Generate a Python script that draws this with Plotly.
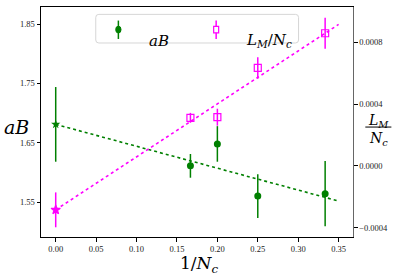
import plotly.graph_objects as go

# data
inv_nc = [0.0, 1/6, 0.2, 0.25, 1/3]
aB = [1.681, 1.611, 1.648, 1.560, 1.564]
aB_err = [0.063, 0.020, 0.030, 0.037, 0.055]
LM = [-0.000284, 0.000312, 0.000316, 0.000635, 0.000860]
LM_err = [0.000113, 0.000032, 0.000055, 0.000070, 0.000100]
fit_x = [0.0, 0.35]
fit_aB = [1.681, 1.5517]
fit_LM = [-0.000284, 0.000917]

aB_ticks = [1.55, 1.65, 1.75, 1.85]
LM_ticks = [-0.0004, 0.0, 0.0004, 0.0008]
x_ticks = [0.0, 0.05, 0.10, 0.15, 0.20, 0.25, 0.30, 0.35]

GREEN = "#008000"
MAG = "#ff00ff"
SERIF = "DejaVu Serif"
TSERIF = "Liberation Serif"

sym_aB = ["star"] + ["circle"] * (len(inv_nc) - 1)
sym_LM = ["star"] + ["square-open"] * (len(inv_nc) - 1)

fig = go.Figure()
fig.add_trace(go.Scatter(x=fit_x, y=fit_aB, mode="lines",
                         line=dict(color=GREEN, dash="dot", width=1.6),
                         yaxis="y", showlegend=False))
fig.add_trace(go.Scatter(x=fit_x, y=fit_LM, mode="lines",
                         line=dict(color=MAG, dash="dot", width=1.6),
                         yaxis="y2", showlegend=False))
fig.add_trace(go.Scatter(x=inv_nc, y=aB, mode="markers",
                         marker=dict(color=GREEN, size=7, symbol=sym_aB),
                         error_y=dict(type="data", array=aB_err, color=GREEN,
                                      thickness=1.5, width=0),
                         yaxis="y", showlegend=False))
fig.add_trace(go.Scatter(x=inv_nc, y=LM, mode="markers",
                         marker=dict(color=MAG, size=7, symbol=sym_LM,
                                     line=dict(color=MAG, width=1.2)),
                         error_y=dict(type="data", array=LM_err, color=MAG,
                                      thickness=1.5, width=0),
                         yaxis="y2", showlegend=False))

tickfont = dict(family=TSERIF, size=8.5, color="#222")

fig.update_layout(
    width=394, height=279,
    margin=dict(l=41, r=41.3, t=6.7, b=42.3, autoexpand=False),
    plot_bgcolor="white", paper_bgcolor="white",
    xaxis=dict(range=[-0.0182, 0.3678], tickvals=x_ticks, tickformat=".2f",
               ticks="outside", ticklen=3.5, tickcolor="black", automargin=False,
               showline=True, linecolor="black", linewidth=1, mirror=True,
               showgrid=False, zeroline=False, tickfont=tickfont),
    yaxis=dict(range=[1.491, 1.879], tickvals=aB_ticks, tickformat=".2f",
               ticks="outside", ticklen=3.5, tickcolor="black", automargin=False,
               showline=True, linecolor="black", linewidth=1,
               showgrid=False, zeroline=False, tickfont=tickfont),
    yaxis2=dict(range=[-0.00046, 0.00103], tickvals=LM_ticks, tickformat=".4f",
                overlaying="y", side="right", automargin=False,
                ticks="outside", ticklen=3.5, tickcolor="black",
                showline=True, linecolor="#666", linewidth=1,
                showgrid=False, zeroline=False, tickfont=tickfont),
    showlegend=False,
)

# axis titles
fig.add_annotation(text="<i>aB</i>", xref="paper", yref="paper",
                   x=-0.079, y=0.48, xanchor="center", yanchor="middle",
                   showarrow=False,
                   font=dict(family=SERIF, size=19, color="black"))
fig.add_annotation(text="1/<i>N<sub>c</sub></i>", xref="paper", yref="paper",
                   x=0.508, y=-0.118, xanchor="center", yanchor="middle",
                   showarrow=False,
                   font=dict(family=SERIF, size=17, color="black"))
fig.add_annotation(text="<i>L<sub>M</sub></i>", xref="paper", yref="paper",
                   x=1.081, y=0.505, xanchor="center", yanchor="middle",
                   height=16, valign="middle",
                   showarrow=False,
                   font=dict(family=SERIF, size=14, color="black"))
fig.add_annotation(text="<i>N<sub>c</sub></i>", xref="paper", yref="paper",
                   x=1.081, y=0.474, xanchor="center", yanchor="top",
                   showarrow=False,
                   font=dict(family=SERIF, size=14, color="black"))
fig.add_shape(type="line", xref="paper", yref="paper",
              x0=1.0395, x1=1.123, y0=0.478, y1=0.478,
              line=dict(color="black", width=1))

# manual legend (rounded box)
lx0, lx1, ly0, ly1 = 0.1755, 0.8255, 0.8435, 0.968
rx, ry = 0.010, 0.013
legend_path = (
    f"M {lx0+rx},{ly0} L {lx1-rx},{ly0} Q {lx1},{ly0} {lx1},{ly0+ry} "
    f"L {lx1},{ly1-ry} Q {lx1},{ly1} {lx1-rx},{ly1} "
    f"L {lx0+rx},{ly1} Q {lx0},{ly1} {lx0},{ly1-ry} "
    f"L {lx0},{ly0+ry} Q {lx0},{ly0} {lx0+rx},{ly0} Z"
)
fig.add_shape(type="path", path=legend_path, xref="paper", yref="paper",
              line=dict(color="#d6d6d6", width=1), fillcolor="rgba(255,255,255,0.8)")
fig.add_shape(type="line", xref="paper", yref="paper",
              x0=0.248, x1=0.248, y0=0.861, y1=0.941,
              line=dict(color=GREEN, width=1.5))
fig.add_shape(type="circle", xref="paper", yref="paper",
              x0=0.2395, x1=0.2565, y0=0.8867, y1=0.9167,
              line=dict(color=GREEN, width=1), fillcolor=GREEN)
fig.add_shape(type="line", xref="paper", yref="paper",
              x0=0.5614, x1=0.5614, y0=0.861, y1=0.941,
              line=dict(color=MAG, width=1.5))
fig.add_shape(type="rect", xref="paper", yref="paper",
              x0=0.5534, x1=0.5694, y0=0.8877, y1=0.9157,
              line=dict(color=MAG, width=1.2), fillcolor="white")
fig.add_annotation(text="<i>aB</i>", xref="paper", yref="paper",
                   x=0.339, y=0.902, xanchor="left", showarrow=False,
                   font=dict(family=SERIF, size=15, color="black"))
fig.add_annotation(text="<i>L<sub>M</sub></i>/<i>N<sub>c</sub></i>",
                   xref="paper", yref="paper",
                   x=0.652, y=0.905, xanchor="left", showarrow=False,
                   font=dict(family=SERIF, size=15, color="black"))

fig.write_html("out.html", config={"displayModeBar": False},
               post_script="document.body.style.margin='0';document.body.style.overflow='hidden';")
